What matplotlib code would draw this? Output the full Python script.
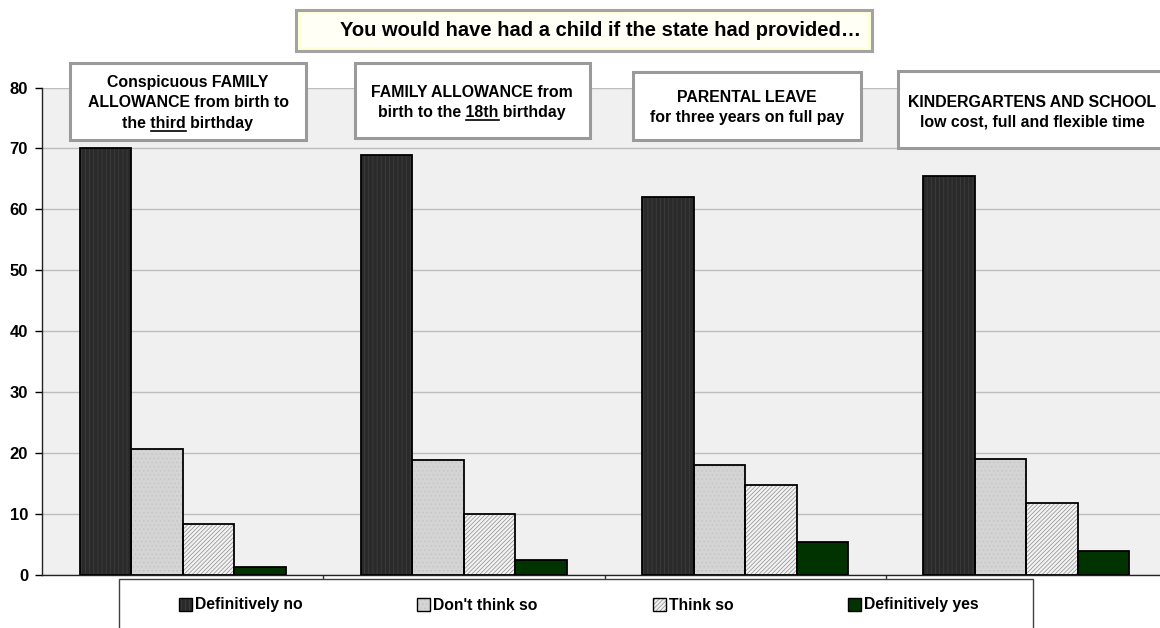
import matplotlib
matplotlib.use("Agg")
import matplotlib.pyplot as plt
import numpy as np
from matplotlib.patches import Rectangle
from matplotlib.lines import Line2D

# ---- data -------------------------------------------------------------
categories = [
    "Conspicuous FAMILY ALLOWANCE from birth to the third birthday",
    "FAMILY ALLOWANCE from birth to the 18th birthday",
    "PARENTAL LEAVE for three years on full pay",
    "KINDERGARTENS AND SCHOOL low cost, full and flexible time",
]
series_names = ["Definitively no", "Don't think so", "Think so", "Definitively yes"]
definitively_no = [70.0, 69.0, 62.0, 65.4]
dont_think_so = [20.6, 18.9, 18.0, 19.0]
think_so = [8.3, 10.0, 14.7, 11.8]
definitively_yes = [1.3, 2.4, 5.4, 3.9]
y_ticks = [0, 10, 20, 30, 40, 50, 60, 70, 80]
title = "You would have had a child if the state had provided\u2026"

# category captions, line by line; (line index, phrase, word) is underlined
caption_lines = [
    ["Conspicuous FAMILY", "ALLOWANCE from birth to", "the third birthday"],
    ["FAMILY ALLOWANCE from", "birth to the 18th birthday"],
    ["PARENTAL LEAVE", "for three years on full pay"],
    ["KINDERGARTENS AND SCHOOL", "low cost, full and flexible time"],
]
caption_underline = [(2, "the third", "third"), (1, "birth to the 18th", "18th"), None, None]

# ---- figure -----------------------------------------------------------
W, H = 1160, 628
plt.rcParams["hatch.linewidth"] = 0.5
FONT = ["Liberation Sans", "DejaVu Sans"]

fig = plt.figure(figsize=(W / 100, H / 100), dpi=100)
fig.patch.set_facecolor("white")


def fx(x):
    return x / W


def fy(y):
    return 1 - y / H


ax = fig.add_axes([fx(42), fy(575), 1125 / W, (575 - 87.5) / H])
ax.set_facecolor("#f0f0f0")

styles = [
    dict(face="#2a2a2a", hatch="||||", hcolor="#414141"),
    dict(face="#d4d4d4", hatch="....", hcolor="#c4c4c4"),
    dict(face="#f2f2f2", hatch="////////", hcolor="#8c8c8c"),
    dict(face="#003300", hatch=None, hcolor="#003300"),
]
series = [definitively_no, dont_think_so, think_so, definitively_yes]

x = np.arange(len(categories))
bw = 0.183
for i, (vals, st) in enumerate(zip(series, styles)):
    xs = x + (i - 1.5) * bw
    ax.bar(xs, vals, bw, color=st["face"], edgecolor=st["hcolor"],
           hatch=st["hatch"], linewidth=0, zorder=3)
    ax.bar(xs, vals, bw, fill=False, edgecolor="black", linewidth=1.3, zorder=4)

ax.set_xlim(-0.5, len(categories) - 0.5)
ax.set_ylim(0, 80)
ax.set_yticks(y_ticks)
ax.set_yticklabels([str(v) for v in y_ticks], fontsize=12, fontweight="bold",
                   family=FONT)
ax.yaxis.grid(True, color="#bdbdbd", linewidth=1, zorder=1)
ax.set_axisbelow(True)
ax.set_xticks([0.5, 1.5, 2.5])
ax.set_xticklabels([])
ax.tick_params(axis="x", length=6, width=1, direction="out", color="#333333")
ax.tick_params(axis="y", length=5, width=1, direction="out", pad=5)
for s in ("top", "right"):
    ax.spines[s].set_visible(False)
for s in ("left", "bottom"):
    ax.spines[s].set_color("#222222")
    ax.spines[s].set_linewidth(1)


def fig_rect(x0, y0, x1, y1, **kw):
    r = Rectangle((fx(x0), fy(y1)), (x1 - x0) / W, (y1 - y0) / H,
                  transform=fig.transFigure, **kw)
    fig.add_artist(r)
    return r


# ---- title box --------------------------------------------------------
fig_rect(296, 10, 872, 51, facecolor="#ffffd8", edgecolor="#a3a3a3",
         linewidth=2.2, zorder=10)
fig_rect(301, 14, 867, 47, facecolor="#fffff6", edgecolor="none", zorder=10)
fig.text(fx(600), fy(31), title, ha="center", va="center", fontsize=14.5,
         fontweight="bold", family=FONT, zorder=11)

# ---- category caption boxes ------------------------------------------
boxes = [(70, 63, 306, 140), (355, 63, 590, 138), (633, 72, 861, 140),
         (898, 71, 1180, 148)]
centers = [188, 472, 747, 1032]
baselines = [[87, 107, 128], [97, 117], [102, 122], [107, 126]]

renderer = fig.canvas.get_renderer()


def text_width(s, **kw):
    t = fig.text(0, 0, s, **kw)
    w = t.get_window_extent(renderer=renderer).width
    t.remove()
    return w


cap_kw = dict(fontsize=11.4, fontweight="bold", family=FONT)
for (x0, y0, x1, y1), cx, lines, bls, ul in zip(boxes, centers, caption_lines,
                                                  baselines, caption_underline):
    fig_rect(x0, y0, x1, y1, facecolor="white", edgecolor="#9a9a9a",
             linewidth=2.2, zorder=10)
    for j, (line, bl) in enumerate(zip(lines, bls)):
        t = fig.text(fx(cx), fy(bl), line, ha="center", va="baseline",
                     zorder=11, **cap_kw)
        if ul is not None and ul[0] == j:
            bb = t.get_window_extent(renderer=renderer)
            end = bb.x0 + text_width(ul[1], **cap_kw)
            start = end - text_width(ul[2], **cap_kw)
            uy = fy(bl + 2.5)
            fig.add_artist(Line2D([start / W, end / W], [uy, uy],
                                  transform=fig.transFigure, color="black",
                                  linewidth=1.2, zorder=12))

# ---- legend -----------------------------------------------------------
fig_rect(119, 579, 1033, 650, facecolor="white", edgecolor="#404040",
         linewidth=1, zorder=10)
marker_x = [179, 417, 653, 848]
for mx, name, st in zip(marker_x, series_names, styles):
    fig_rect(mx, 598, mx + 13, 611, facecolor=st["face"], edgecolor=st["hcolor"],
             hatch=st["hatch"], linewidth=0, zorder=11)
    fig_rect(mx, 598, mx + 13, 611, fill=False, edgecolor="black",
             linewidth=1, zorder=12)
    fig.text(fx(mx + 16), fy(605), name, ha="left", va="center", fontsize=11.3,
             fontweight="bold", family=FONT, zorder=12)

fig.savefig("out.png", dpi=100)
